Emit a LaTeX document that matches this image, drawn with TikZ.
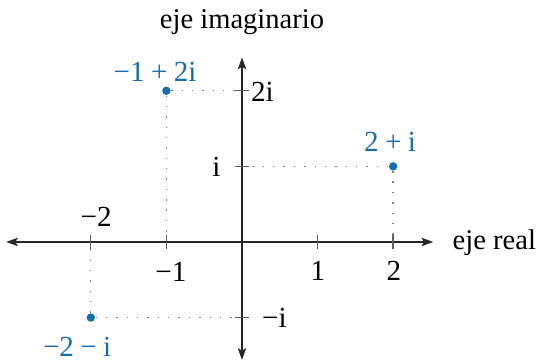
\documentclass[tikz,border=0pt]{standalone}
\usepackage{fontspec}
\setmainfont{Liberation Serif}
\usetikzlibrary{arrows.meta}
\definecolor{ptblue}{RGB}{23,110,172}
\definecolor{tickgray}{RGB}{95,95,95}
\tikzset{
  axisline/.style={line width=0.5pt, draw=black!85, -{Stealth[length=4.2pt,width=3pt,inset=0.9pt]}},
  tickmark/.style={line width=0.5pt, draw=tickgray},
  guide/.style={draw=gray, line width=0.5pt, dash pattern=on 0.5pt off 3.2pt},
  ptdot/.style={circle, fill=ptblue, inner sep=0pt, minimum size=3pt},
  ptlabel/.style={text=ptblue, inner sep=0pt, font=\fontsize{10.4}{12}\selectfont},
  ticklabel/.style={inner sep=0pt, font=\fontsize{10.4}{12}\selectfont},
  axlabel/.style={inner sep=0pt, font=\fontsize{10.2}{12}\selectfont}
}
\begin{document}
\begin{tikzpicture}[x=27pt,y=27pt]
\useasboundingbox (-3.201,-1.561) rectangle (3.929,3.201);
% axes
\coordinate (xl) at (-3.12,0);
\coordinate (xr) at (2.53,0);
\coordinate (yb) at (0,-1.56);
\coordinate (yt) at (0,2.44);
\draw[axisline] (0,0) -- (xl);
\draw[axisline] (0,0) -- (xr);
\draw[axisline] (0,0) -- (yb);
\draw[axisline] (0,0) -- (yt);
% axis coords
\coordinate (xm2) at (-2,0);
\coordinate (xm1) at (-1,0);
\coordinate (xp1) at (1,0);
\coordinate (xp2) at (2,0);
\coordinate (yp1) at (0,1);
\coordinate (yp2) at (0,2);
\coordinate (ym1) at (0,-1);
% points
\node[ptdot] (pa) at (-1,2) {};
\node[ptdot] (pb) at (2,1) {};
\node[ptdot] (pc) at (-2,-1) {};
% guides
\draw[guide] (pa) -- (yp2);
\draw[guide] (pa) -- (xm1);
\draw[guide] (pb) -- (yp1);
\draw[guide] (pb) -- (xp2);
\draw[guide] (pc) -- (ym1);
\draw[guide] (pc) -- (xm2);
% ticks
\foreach \t in {xm2,xm1,xp1,xp2}{
  \draw[tickmark] ([yshift=-2.5pt]\t) -- ([yshift=2.5pt]\t);
}
\foreach \t in {yp1,yp2,ym1}{
  \draw[tickmark] ([xshift=-2.5pt]\t) -- ([xshift=2.5pt]\t);
}
% tick labels
\node[ticklabel] (lm2) at (-1.93,0.33) {−2};
\node[ticklabel] (lm1) at (-0.94,-0.39) {−1};
\node[ticklabel] (l1) at (1.005,-0.38) {1};
\node[ticklabel] (l2) at (2.01,-0.38) {2};
\node[ticklabel] (li) at (-0.337,1.0) {i};
\node[ticklabel] (l2i) at (0.27,1.98) {2i};
\node[ticklabel] (lmi) at (0.43,-1.0) {−i};
% point labels
\node[ptlabel] (la) at (-1.15,2.25) {−1\kern0.22em+\kern0.22em2i};
\node[ptlabel] (lb) at (1.958,1.325) {2\kern0.22em+\kern0.22em i};
\node[ptlabel] (lc) at (-2.18,-1.39) {−2\kern0.22em−\kern0.22em i};
% axis labels
\node[axlabel] (ay) at (0,2.91) {eje imaginario};
\node[axlabel, anchor=west] (ax) at (2.78,-0.01) {eje real};
\end{tikzpicture}
\end{document}
